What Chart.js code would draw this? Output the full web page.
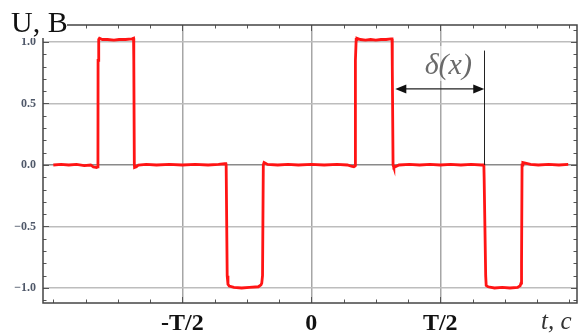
<!DOCTYPE html>
<html><head><meta charset="utf-8">
<script src="https://cdn.jsdelivr.net/npm/chart.js@4.4.1/dist/chart.umd.min.js"></script>
<style>html,body{margin:0;padding:0;background:#fff;} canvas{display:block;}</style>
</head><body>
<canvas id="c" width="578" height="336"></canvas>
<script>
// time in units of the period T, voltage in volts
const signalX = [
  -1.000,-0.970,-0.940,-0.910,-0.880,-0.855,-0.845,-0.832,-0.828,
  -0.827,-0.8265,-0.824,-0.821,
  -0.810,-0.790,-0.765,-0.745,-0.720,-0.695,-0.689,
  -0.688,-0.686,-0.685,-0.678,-0.670,
  -0.640,-0.600,-0.550,-0.500,-0.450,-0.400,-0.360,-0.335,-0.331,
  -0.330,-0.326,-0.323,-0.318,-0.300,-0.270,-0.240,-0.205,-0.195,-0.192,
  -0.189,-0.186,-0.183,-0.178,-0.170,
  -0.130,-0.090,-0.050,0.000,0.050,0.100,0.140,0.155,0.165,0.169,
  0.170,0.171,0.174,0.177,
  0.190,0.210,0.230,0.250,0.270,0.290,0.310,0.313,
  0.314,0.317,0.320,0.330,0.340,
  0.380,0.420,0.460,0.500,0.540,0.580,0.620,0.660,0.669,
  0.670,0.676,0.678,0.685,0.710,0.740,0.770,0.800,0.810,0.813,
  0.815,0.817,0.820,0.830,0.850,
  0.880,0.920,0.960,0.996
];
const signalY = [
  0.000,0.005,0.000,0.005,-0.005,0.000,-0.015,-0.020,-0.015,
  0.000,0.850,1.020,1.030,
  1.020,1.020,1.015,1.020,1.020,1.025,1.030,
  0.850,0.000,-0.020,-0.015,0.000,
  0.005,0.000,0.005,0.000,0.005,0.000,0.005,0.010,0.010,
  0.000,-0.900,-0.970,-0.985,-0.995,-1.000,-0.995,-0.990,-0.975,-0.960,
  -0.900,0.000,0.020,0.015,0.005,
  0.000,0.005,0.000,0.005,0.000,0.005,0.000,-0.010,-0.015,-0.010,
  0.000,0.850,1.020,1.030,
  1.020,1.015,1.020,1.015,1.020,1.020,1.025,1.025,
  0.800,0.000,-0.020,-0.010,0.000,
  0.005,0.000,0.005,0.000,0.005,0.000,0.005,0.000,0.000,
  -0.100,-0.900,-0.980,-0.990,-1.000,-0.995,-1.000,-0.995,-0.980,-0.960,
  -0.800,0.000,0.020,0.015,0.005,
  0.000,0.005,0.000,0.005
];
const xTickValues = [-1,-0.875,-0.75,-0.625,-0.5,-0.375,-0.25,-0.125,0,0.125,0.25,0.375,0.5,0.625,0.75,0.875,1];
const xMajorValues = [-0.5, 0, 0.5];
const xMajorLabels = ['-T/2', '0', 'T/2'];
const yTickValues = [-1.1,-1.0,-0.9,-0.8,-0.7,-0.6,-0.5,-0.4,-0.3,-0.2,-0.1,0,0.1,0.2,0.3,0.4,0.5,0.6,0.7,0.8,0.9,1.0,1.1];
const yMajorValues = [-1.0,-0.5,0,0.5,1.0];
const yMajorLabels = ['\u22121.0','\u22120.5','0.0','0.5','1.0'];
const yAxisTitle = 'U, B';
const xAxisTitle = 't, c';
const deltaLabel = '\u03B4(x)';
const deltaStart = 0.3256, deltaEnd = 0.6705, deltaArrowY = 0.618, deltaLineTop = 0.93;
const deltaLabelX = 0.531, deltaLabelY = 0.805;

const near = (a, b) => Math.abs(a - b) < 1e-6;
const majorIndex = (arr, v) => arr.findIndex(m => near(m, v));

const points = signalX.map((x, i) => ({x, y: signalY[i]}));

const decor = {
  id: 'decor',
  afterDraw(chart) {
    const ctx = chart.ctx, a = chart.chartArea;
    const xs = chart.scales.x, ys = chart.scales.y;
    ctx.save();
    // inward tick marks
    ctx.strokeStyle = '#555'; ctx.lineWidth = 1;
    xTickValues.forEach(v => {
      const px = Math.round(xs.getPixelForValue(v)) + 0.5;
      const L = majorIndex(xMajorValues, v) >= 0 ? 6 : 3.5;
      ctx.beginPath(); ctx.moveTo(px, a.bottom); ctx.lineTo(px, a.bottom - L); ctx.stroke();
      ctx.beginPath(); ctx.moveTo(px, a.top); ctx.lineTo(px, a.top + L); ctx.stroke();
    });
    yTickValues.forEach(v => {
      const py = Math.round(ys.getPixelForValue(v)) + 0.5;
      const L = majorIndex(yMajorValues, v) >= 0 ? 6 : 3.5;
      ctx.beginPath(); ctx.moveTo(a.left, py); ctx.lineTo(a.left + L, py); ctx.stroke();
      ctx.beginPath(); ctx.moveTo(a.right, py); ctx.lineTo(a.right - L, py); ctx.stroke();
    });
    // frame
    ctx.strokeStyle = '#444'; ctx.lineWidth = 1.5;
    ctx.strokeRect(a.left, a.top, a.right - a.left, a.bottom - a.top);
    // y axis title with white background
    ctx.fillStyle = '#fff';
    ctx.fillRect(0, 0, 67, 38);
    ctx.fillStyle = '#111';
    ctx.font = '30px "Liberation Serif"';
    ctx.textBaseline = 'alphabetic'; ctx.textAlign = 'left';
    ctx.fillText(yAxisTitle, 11, 32);
    // x axis title
    ctx.fillStyle = '#333';
    ctx.font = 'italic 25px "Liberation Serif"';
    ctx.fillText(xAxisTitle, 541, 329);
    // delta annotation
    const x1 = xs.getPixelForValue(deltaStart), x2 = xs.getPixelForValue(deltaEnd);
    const ay = ys.getPixelForValue(deltaArrowY);
    const lx = xs.getPixelForValue(deltaLabelX), ly = ys.getPixelForValue(deltaLabelY);
    ctx.fillStyle = 'rgba(255,255,255,0.6)';
    ctx.fillRect(lx - 30, ly - 20, 60, 35);
    ctx.strokeStyle = '#222'; ctx.lineWidth = 1;
    const vx = Math.round(x2) + 0.5;
    ctx.beginPath(); ctx.moveTo(vx, ys.getPixelForValue(0)); ctx.lineTo(vx, ys.getPixelForValue(deltaLineTop)); ctx.stroke();
    ctx.lineWidth = 1.2;
    ctx.beginPath(); ctx.moveTo(x1 + 8, ay); ctx.lineTo(x2 - 8, ay); ctx.stroke();
    ctx.fillStyle = '#111';
    ctx.beginPath(); ctx.moveTo(x1, ay); ctx.lineTo(x1 + 11, ay - 4.5); ctx.lineTo(x1 + 11, ay + 4.5); ctx.closePath(); ctx.fill();
    ctx.beginPath(); ctx.moveTo(x2, ay); ctx.lineTo(x2 - 11, ay - 4.5); ctx.lineTo(x2 - 11, ay + 4.5); ctx.closePath(); ctx.fill();
    ctx.fillStyle = '#6a6a6a';
    ctx.font = 'italic 30px "Liberation Serif"';
    ctx.textAlign = 'center'; ctx.textBaseline = 'middle';
    ctx.fillText(deltaLabel, lx, ly);
    ctx.restore();
  }
};

new Chart(document.getElementById('c'), {
  type: 'line',
  data: { datasets: [{
    data: points, borderColor: '#ff1414', borderWidth: 2.8, pointRadius: 0, tension: 0, fill: false
  }]},
  options: {
    responsive: false, devicePixelRatio: 1, animation: false,
    layout: { padding: { top: 25, right: 1, left: 0, bottom: 0 } },
    plugins: { legend: { display: false }, tooltip: { enabled: false } },
    scales: {
      x: {
        type: 'linear', min: -1.04, max: 1.03,
        afterBuildTicks: s => { s.ticks = xTickValues.map(v => ({value: v})); },
        afterFit: s => { s.height = 33; },
        border: { display: false },
        grid: {
          drawTicks: false,
          color: c => majorIndex(xMajorValues, c.tick.value) >= 0 ? '#a6a6a6' : 'rgba(0,0,0,0)',
          lineWidth: 1.5
        },
        ticks: {
          autoSkip: false, maxRotation: 0, padding: 6, color: '#111',
          font: { family: '"Liberation Serif"', size: 24, weight: 'bold' },
          callback: v => { const i = majorIndex(xMajorValues, v); return i >= 0 ? xMajorLabels[i] : ''; }
        }
      },
      y: {
        type: 'linear', min: -1.122, max: 1.138,
        afterBuildTicks: s => { s.ticks = yTickValues.map(v => ({value: v})); },
        afterFit: s => { s.width = 43; },
        border: { display: false },
        grid: {
          drawTicks: false,
          color: c => near(c.tick.value, 0) ? '#8a8a8a' : (majorIndex(yMajorValues, c.tick.value) >= 0 ? '#bdbdbd' : 'rgba(0,0,0,0)'),
          lineWidth: 1.5
        },
        ticks: {
          autoSkip: false, padding: 7, color: '#4f5869',
          font: { family: '"Liberation Serif"', size: 12, weight: 'bold' },
          callback: v => { const i = majorIndex(yMajorValues, v); return i >= 0 ? yMajorLabels[i] : ''; }
        }
      }
    }
  },
  plugins: [decor]
});
</script>
</body></html>
